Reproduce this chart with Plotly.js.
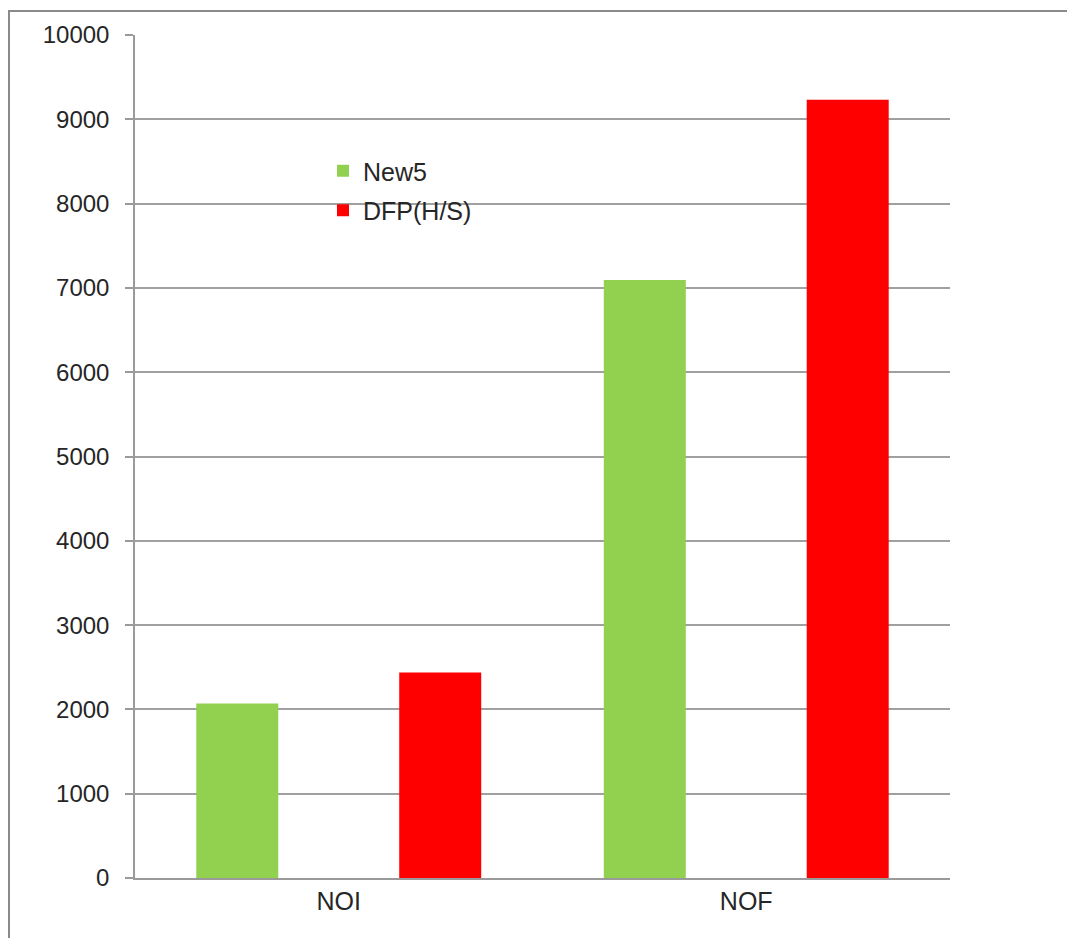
<!DOCTYPE html>
<html>
<head>
<meta charset="utf-8">
<script src="https://cdn.plot.ly/plotly-3.0.1.min.js"></script>
<style>html,body{margin:0;padding:0;background:#fff;}#chart{width:1067px;height:938px;}</style>
</head>
<body>
<div id="chart"></div>
<script>
const categories = ["NOI", "NOF"];
const seriesNames = ["New5", "DFP(H/S)"];
const new5Values = [2070, 7095];
const dfpValues = [2438, 9232];
const yTickValues = [0, 1000, 2000, 3000, 4000, 5000, 6000, 7000, 8000, 9000, 10000];

const W = 1067, H = 938;
const ml = 135, mr = 117, mt = 35, mb = 60;
const pw = W - ml - mr, ph = H - mt - mb;
const px = v => (v - ml) / pw;
const py = v => (H - mb - v) / ph;

const traces = [
  {type: "bar", name: seriesNames[0], x: categories, y: new5Values,
   marker: {color: "#92D050"}, legendgroup: "a", hoverinfo: "x+y"},
  {type: "bar", name: seriesNames[1], x: categories, y: dfpValues,
   marker: {color: "#FF0000"}, legendgroup: "b", hoverinfo: "x+y"}
];

const layout = {
  width: W, height: H,
  margin: {l: ml, r: mr, t: mt, b: mb, pad: 0},
  paper_bgcolor: "#ffffff", plot_bgcolor: "#ffffff",
  font: {family: "Liberation Sans, Arial, sans-serif", color: "#262626", size: 24},
  barmode: "group", bargap: 0.004, bargroupgap: 0.596,
  showlegend: true,
  legend: {x: px(323), y: py(148), xanchor: "left", yanchor: "top",
           bgcolor: "rgba(0,0,0,0)", font: {size: 25, color: "#262626"},
           traceorder: "grouped", tracegroupgap: 4},
  xaxis: {type: "category", showgrid: false, showline: true, linecolor: "#9a9a9a", linewidth: 1.5,
          ticks: "", tickfont: {size: 25, color: "#262626"}, zeroline: false, fixedrange: true},
  yaxis: {range: [0, 10000], tickvals: yTickValues, ticktext: yTickValues.map(String),
          showgrid: true, gridcolor: "#a0a0a0", gridwidth: 1.5,
          showline: true, linecolor: "#9a9a9a", linewidth: 1.5,
          ticks: "outside", ticklen: 8, tickcolor: "#9a9a9a", tickwidth: 1.5,
          ticklabelstandoff: 11, tickfont: {size: 24, color: "#262626"}, zeroline: false, fixedrange: true},
  shapes: [
    {type: "rect", xref: "paper", yref: "paper", x0: px(9), x1: px(1200), y0: py(1100), y1: py(11),
     line: {color: "#8a8a8a", width: 2}, fillcolor: "rgba(0,0,0,0)", layer: "below"}
  ]
};

Plotly.newPlot("chart", traces, layout, {displayModeBar: false, staticPlot: false});
</script>
</body>
</html>
